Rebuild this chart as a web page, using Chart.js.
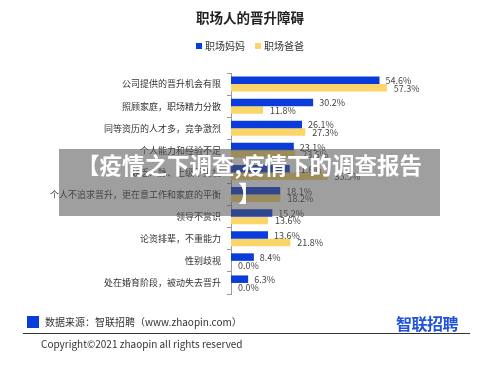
<!DOCTYPE html>
<html>
<head>
<meta charset="utf-8">
<script src="https://cdn.jsdelivr.net/npm/chart.js@4"></script>
<style>
  html, body { margin: 0; padding: 0; background: #fff; }
  body { width: 500px; height: 365px; position: relative; overflow: hidden; font-family: "Noto Sans CJK SC", "Noto Sans", sans-serif; }
  #chartBox { position: absolute; left: 0; top: 0; width: 500px; height: 365px; }
  .abs { position: absolute; white-space: nowrap; }
  #title { left: 0; width: 500px; top: 7px; text-align: center; font-size: 13.5px; font-weight: bold; color: #222; }
  #legend { left: 0; width: 500px; top: 38px; text-align: center; font-size: 10px; color: #333; }
  #legend span.sw { display: inline-block; width: 6px; height: 6px; margin-right: 3px; vertical-align: 1px; }
  #legend span.item { margin: 0 5px; }
  #srcBox { left: 27px; top: 316px; width: 12px; height: 12px; background: #0a3cdc; }
  #src { left: 45px; top: 314px; font-size: 10px; color: #333; }
  #logo { left: 396px; top: 311px; font-size: 16px; font-weight: bold; color: #1f52d9; letter-spacing: -0.5px; }
  #rule { left: 23px; top: 333px; width: 447px; height: 1px; background: #333; }
  #copy { left: 41px; top: 336px; font-size: 10px; color: #333; }
  #veil { left: 59px; top: 149px; width: 381px; height: 67px; background: rgba(80,80,80,0.55); color: #fff;
          font-size: 22.5px; font-weight: bold; text-align: center; white-space: normal; line-height: 28px; padding-top: 1px; box-sizing: border-box; }
</style>
</head>
<body>
<div id="chartBox"><canvas id="promoChart" width="500" height="365"></canvas></div>
<div class="abs" id="title">职场人的晋升障碍</div>
<div class="abs" id="legend"><span class="item"><span class="sw" style="background:#0a3cdc"></span>职场妈妈</span><span class="item"><span class="sw" style="background:#fbd568"></span>职场爸爸</span></div>
<div class="abs" id="srcBox"></div>
<div class="abs" id="src">数据来源：智联招聘（www.zhaopin.com）</div>
<div class="abs" id="logo">智联招聘</div>
<div class="abs" id="rule"></div>
<div class="abs" id="copy">Copyright©2021 zhaopin all rights reserved</div>
<div class="abs" id="veil">【疫情之下调查,疫情下的调查报告<br>】</div>
<script>
const categories = [
    '公司提供的晋升机会有限',
    '照顾家庭，职场精力分散',
    '同等资历的人才多，竞争激烈',
    '个人能力和经验不足',
    '缺乏人脉、上级不重视',
    '个人不追求晋升，更在意工作和家庭的平衡',
    '领导不赏识',
    '论资排辈，不重能力',
    '性别歧视',
    '处在婚育阶段，被动失去晋升'
];
const momValues = [54.6, 30.2, 26.1, 23.1, 21.6, 18.1, 15.2, 13.6, 8.4, 6.3];
const dadValues = [57.3, 11.8, 27.3, 23.6, 35.5, 18.2, 13.6, 21.8, 0.0, 0.0];
const seriesNames = ['职场妈妈', '职场爸爸'];

// value labels at the end of each bar
const barLabelPlugin = {
    id: 'barLabels',
    afterDatasetsDraw(chart) {
        const ctx = chart.ctx;
        ctx.save();
        ctx.font = '9px "Noto Sans CJK SC", sans-serif';
        ctx.fillStyle = '#444';
        ctx.textBaseline = 'middle';
        ctx.textAlign = 'left';
        chart.data.datasets.forEach((ds, i) => {
            const meta = chart.getDatasetMeta(i);
            meta.data.forEach((bar, j) => {
                const v = ds.data[j];
                ctx.fillText(v.toFixed(1) + '%', bar.x + (i === 0 ? 6 : 7), bar.y + 0.5);
            });
        });
        ctx.restore();
    }
};

const ctx = document.getElementById('promoChart').getContext('2d');
new Chart(ctx, {
    type: 'bar',
    data: {
        labels: categories,
        datasets: [
            { label: seriesNames[0], data: momValues, backgroundColor: '#0a3cdc' },
            { label: seriesNames[1], data: dadValues, backgroundColor: '#fbd568' }
        ]
    },
    options: {
        indexAxis: 'y',
        responsive: false,
        animation: false,
        layout: { padding: { left: 0, top: 73, bottom: 71, right: 65 } },
        datasets: { bar: { categoryPercentage: 0.68, barPercentage: 1.0 } },
        scales: {
            x: { display: false, min: 0, max: 75 },
            y: {
                afterFit: s => { s.width = 231; },
                border: { display: true, color: '#999', width: 1 },
                grid: { offset: true, drawOnChartArea: false, drawTicks: true, tickLength: 4, color: '#999' },
                ticks: { color: '#333', padding: 6, autoSkip: false, font: { size: 9, family: '"Noto Sans CJK SC", sans-serif' } }
            }
        },
        plugins: {
            legend: { display: false },
            title: { display: false },
            tooltip: { enabled: false }
        }
    },
    plugins: [barLabelPlugin]
});
</script>
</body>
</html>
